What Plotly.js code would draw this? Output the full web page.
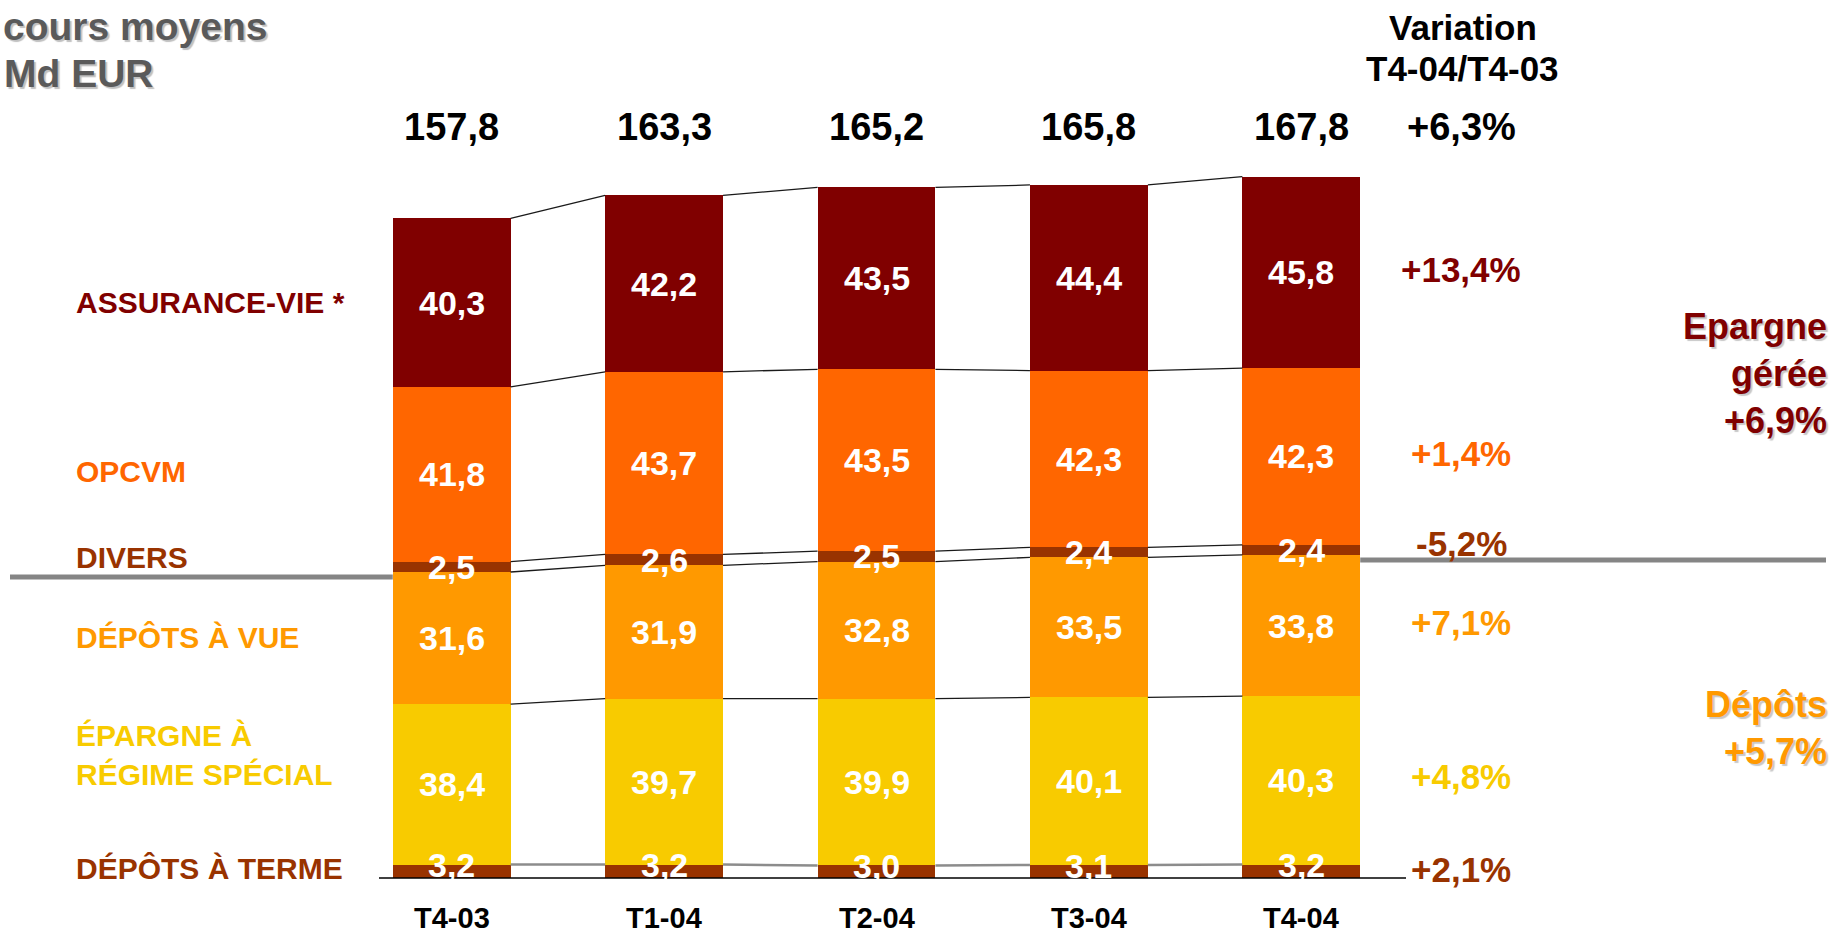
<!DOCTYPE html>
<html>
<head>
<meta charset="utf-8">
<script src="https://cdn.plot.ly/plotly-3.0.1.min.js"></script>
<style>
  html, body { margin: 0; padding: 0; background: #ffffff; }
  #chart { width: 1847px; height: 938px; }
</style>
</head>
<body>
<div id="chart"></div>
<script>
// ---------------- DATA ----------------
const categories = ['T4-03', 'T1-04', 'T2-04', 'T3-04', 'T4-04'];
// stacked from bottom to top
const depotsTerme   = [3.2, 3.2, 3.0, 3.1, 3.2];
const epargneRegime = [38.4, 39.7, 39.9, 40.1, 40.3];
const depotsVue     = [31.6, 31.9, 32.8, 33.5, 33.8];
const divers        = [2.5, 2.6, 2.5, 2.4, 2.4];
const opcvm         = [41.8, 43.7, 43.5, 42.3, 42.3];
const assuranceVie  = [40.3, 42.2, 43.5, 44.4, 45.8];

const seriesLabels = ['DÉPÔTS À TERME', 'ÉPARGNE À<br>RÉGIME SPÉCIAL', 'DÉPÔTS À VUE', 'DIVERS', 'OPCVM', 'ASSURANCE-VIE *'];
const variations   = ['+2,1%', '+4,8%', '+7,1%', '-5,2%', '+1,4%', '+13,4%'];
const totalVariation = '+6,3%';
const groupEpargne = ['Epargne', 'gérée', '+6,9%'];
const groupDepots  = ['Dépôts', '+5,7%'];
const titleLines   = ['cours moyens', 'Md EUR'];
const variationHeader = ['Variation', 'T4-04/T4-03'];

// ---------------- STYLE ----------------
const seriesColors = ['#993300', '#F8CB00', '#FF9900', '#993300', '#FF6600', '#800000'];
const FONT = 'Arial, "Liberation Sans", sans-serif';
const W = 1847, H = 938;
const X0 = 451.7, DX = 212.4;   // pixel of first bar centre, pixel spacing
const Y0 = 878, DY = 4.18;      // pixel of baseline, pixels per unit
const BARW = 0.555;

const series = [depotsTerme, epargneRegime, depotsVue, divers, opcvm, assuranceVie];
const xs = categories.map((c, i) => i);
const fmt = v => v.toFixed(1).replace('.', ',');
const px = p => p / W;            // pixel x -> paper
const py = p => 1 - p / H;        // pixel y -> paper

// cumulative tops
const cum = [];
series.forEach((s, k) => {
  cum.push(s.map((v, i) => (k === 0 ? 0 : cum[k - 1][i]) + v));
});
const bottoms = series.map((s, k) => s.map((v, i) => k === 0 ? 0 : cum[k - 1][i]));
const totals = cum[cum.length - 1];

const traces = [];
series.forEach((s, k) => {
  traces.push({
    type: 'bar', x: xs, y: s, width: BARW,
    marker: { color: seriesColors[k], line: { width: 0 } },
    hoverinfo: 'skip', showlegend: false
  });
});

// connector lines between bars
cum.forEach((lvl, k) => {
  const cx = [], cy = [];
  for (let i = 0; i < lvl.length - 1; i++) {
    cx.push(i + BARW / 2, i + 1 - BARW / 2, null);
    cy.push(lvl[i], lvl[i + 1], null);
  }
  traces.push({
    type: 'scatter', mode: 'lines', x: cx, y: cy,
    line: { color: k === 0 ? '#8c8c8c' : '#1a1a1a', width: k === 0 ? 2.5 : 1.3 },
    hoverinfo: 'skip', showlegend: false, connectgaps: false
  });
});

const annotations = [];
function ann(o) {
  annotations.push(Object.assign({ showarrow: false, xanchor: 'center', yanchor: 'middle' }, o));
}
// values inside bars
const valueShift = [6, 0, 0, 0, 0, 0];
series.forEach((s, k) => {
  s.forEach((v, i) => {
    ann({
      xref: 'x', yref: 'y', x: i, y: bottoms[k][i] + v / 2, yshift: valueShift[k],
      text: '<b>' + fmt(v) + '</b>',
      font: { family: FONT, size: 34, color: '#ffffff' }
    });
  });
});
// totals on top
totals.forEach((t, i) => {
  ann({
    xref: 'x', yref: 'paper', x: i, y: py(127),
    text: '<b>' + fmt(t) + '</b>',
    font: { family: FONT, size: 38, color: '#000000' }
  });
});
// category labels
categories.forEach((c, i) => {
  ann({
    xref: 'x', yref: 'paper', x: i, y: py(918),
    text: '<b>' + c + '</b>', borderpad: 0,
    font: { family: FONT, size: 29, color: '#000000' }
  });
});
// left series labels (aligned with first bar segments)
const leftShift = [3, 29, 1, 9, 3, 0];
series.forEach((s, k) => {
  ann({
    xref: 'paper', yref: 'y', x: px(74), xanchor: 'left',
    y: bottoms[k][0] + s[0] / 2, yshift: leftShift[k],
    text: '<b>' + seriesLabels[k] + '</b>', align: 'left',
    font: { family: FONT, size: 30, color: seriesColors[k] }
  });
});
// variation column (aligned with last bar segments)
const last = categories.length - 1;
const varShift = [2, 4, 3, 6, 3, 3];
series.forEach((s, k) => {
  ann({
    xref: 'paper', yref: 'y', x: px(1461),
    y: bottoms[k][last] + s[last] / 2, yshift: varShift[k],
    text: '<b>' + variations[k] + '</b>',
    font: { family: FONT, size: 35, color: seriesColors[k] }
  });
});
// variation header
ann({
  xref: 'paper', yref: 'paper', x: px(1463), y: py(28),
  text: '<b>' + variationHeader[0] + '</b>',
  font: { family: FONT, size: 35, color: '#000000' }
});
ann({
  xref: 'paper', yref: 'paper', x: px(1462), y: py(68),
  text: '<b>' + variationHeader[1] + '</b>',
  font: { family: FONT, size: 35, color: '#000000' }
});
ann({
  xref: 'paper', yref: 'paper', x: px(1461), y: py(127),
  text: '<b>' + totalVariation + '</b>',
  font: { family: FONT, size: 38, color: '#000000' }
});
// group labels on the right
ann({
  xref: 'paper', yref: 'paper', x: px(1829), xanchor: 'right', y: py(373),
  text: '<b>' + groupEpargne.join('<br>') + '</b>', align: 'right',
  font: { family: FONT, size: 36, color: '#800000', shadow: '2px 2px 1px #c8c8c8' }
});
ann({
  xref: 'paper', yref: 'paper', x: px(1829), xanchor: 'right', y: py(728),
  text: '<b>' + groupDepots.join('<br>') + '</b>', align: 'right',
  font: { family: FONT, size: 36, color: '#FF9900', shadow: '2px 2px 1px #c8c8c8' }
});
// title top-left
ann({
  xref: 'paper', yref: 'paper', x: px(1), xanchor: 'left', y: py(26),
  text: '<b>' + titleLines[0] + '</b>', align: 'left',
  font: { family: FONT, size: 39, color: '#5a5a5a', shadow: '2px 2px 1px #c0c0c0' }
});
ann({
  xref: 'paper', yref: 'paper', x: px(2), xanchor: 'left', y: py(74),
  text: '<b>' + titleLines[1] + '</b>', align: 'left',
  font: { family: FONT, size: 39, color: '#5a5a5a', shadow: '2px 2px 1px #c0c0c0' }
});

const sepOffset = 1.2;
const shapes = [
  // baseline
  { type: 'line', xref: 'paper', yref: 'y', x0: px(379), x1: px(1406), y0: 0, y1: 0,
    line: { color: '#000000', width: 1.5 } },
  // separator between "épargne gérée" and "dépôts"
  { type: 'line', xref: 'paper', yref: 'y', x0: px(10), x1: px(X0 - BARW / 2 * DX),
    y0: cum[2][0] - sepOffset, y1: cum[2][0] - sepOffset,
    line: { color: '#858585', width: 5 } },
  { type: 'line', xref: 'paper', yref: 'y', x0: px(X0 + (last + BARW / 2) * DX), x1: px(1826),
    y0: cum[2][last] - sepOffset, y1: cum[2][last] - sepOffset,
    line: { color: '#858585', width: 5 } }
];

const layout = {
  width: W, height: H,
  margin: { l: 0, r: 0, t: 0, b: 0, pad: 0 },
  paper_bgcolor: '#ffffff', plot_bgcolor: '#ffffff',
  barmode: 'stack', bargap: 0,
  showlegend: false,
  xaxis: { range: [(0 - X0) / DX, (W - X0) / DX], visible: false, fixedrange: true },
  yaxis: { range: [(Y0 - H) / DY, Y0 / DY], visible: false, fixedrange: true },
  annotations: annotations,
  shapes: shapes,
  font: { family: FONT }
};

Plotly.newPlot('chart', traces, layout, { displayModeBar: false, staticPlot: true });
</script>
</body>
</html>
